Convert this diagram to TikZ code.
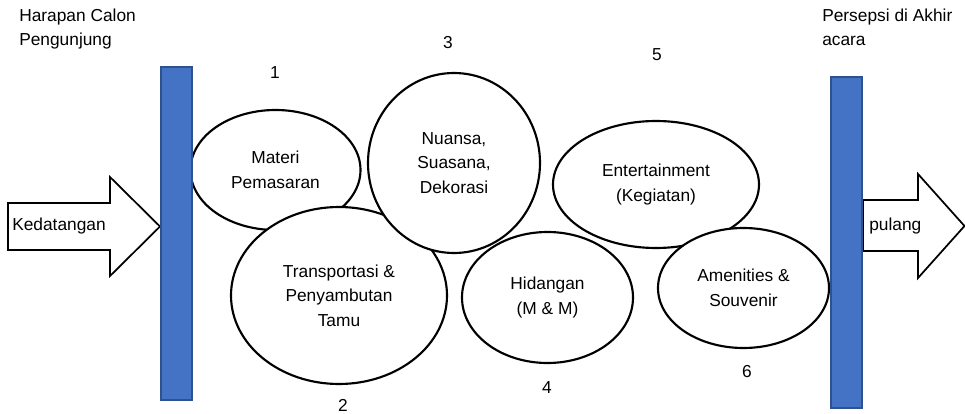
\documentclass[tikz,border=0pt]{standalone}
\usepackage{fontspec}
\setmainfont{Liberation Sans}
\usetikzlibrary{shapes.geometric}
\definecolor{barfill}{HTML}{4472C4}
\definecolor{barline}{HTML}{2F528F}
\tikzset{
  bubble/.style={ellipse, draw=black, line width=1.6pt, fill=white,
    inner sep=0pt, align=center, font=\fontsize{13}{18.5}\selectfont},
  label/.style={inner sep=0pt, align=left, font=\fontsize{13}{18}\selectfont},
  num/.style={inner sep=0pt, font=\fontsize{13}{16}\selectfont},
  bar/.style={fill=barfill, draw=barline, line width=0.8pt},
  blockarrow/.style={draw=black, fill=white, line width=1.3pt, line join=miter}
}
\begin{document}
\begin{tikzpicture}[x=0.75pt, y=-0.75pt]
  \useasboundingbox (0,0) rectangle (965,414);

  % entry and exit block arrows
  \draw[blockarrow] (8,203) -- (110,203) -- (110,177) -- (160,226.5)
    -- (110,276) -- (110,250) -- (8,250) -- cycle;
  \draw[blockarrow] (863,200) -- (918,200) -- (918,174) -- (964.5,226)
    -- (918,278) -- (918,251) -- (863,251) -- cycle;
  \node[label, anchor=west] (kedatangan) at (12,226.5) {Kedatangan};
  \node[label, anchor=west] (pulang) at (869,226) {pulang};

  % experience bubbles, back to front
  \node[bubble, minimum width=127.5pt, minimum height=90pt] (materi)
    at (275.5,170) {Materi\\Pemasaran};
  \node[bubble, minimum width=162pt, minimum height=132.75pt] (transport)
    at (339,295.5) {Transportasi \&\\Penyambutan\\Tamu};
  \node[bubble, minimum width=129pt, minimum height=135pt] (nuansa)
    at (454,163) {Nuansa,\\Suasana,\\Dekorasi};
  \node[bubble, minimum width=128.25pt, minimum height=98.25pt] (hidangan)
    at (547.5,297.5) {Hidangan\\(M \& M)};
  \node[bubble, minimum width=154.5pt, minimum height=95.25pt] (entertain)
    at (656,184.5) {Entertainment\\(Kegiatan)};
  \node[bubble, minimum width=128.25pt, minimum height=90pt] (amenities)
    at (743.5,288) {Amenities \&\\Souvenir};

  % gates
  \draw[bar] (161,67) rectangle (192,400);
  \draw[bar] (831,77) rectangle (862,408);

  % headings
  \node[label, anchor=north west] (harapan) at (19,9) {Harapan Calon\\Pengunjung};
  \node[label, anchor=north west] (persepsi) at (822,9) {Persepsi di Akhir\\acara};

  % step numbers
  \node[num] (n1) at (275,73) {1};
  \node[num] (n2) at (343,405) {2};
  \node[num] (n3) at (448,43) {3};
  \node[num] (n4) at (547,388) {4};
  \node[num] (n5) at (657,55) {5};
  \node[num] (n6) at (747,372) {6};
\end{tikzpicture}
\end{document}
